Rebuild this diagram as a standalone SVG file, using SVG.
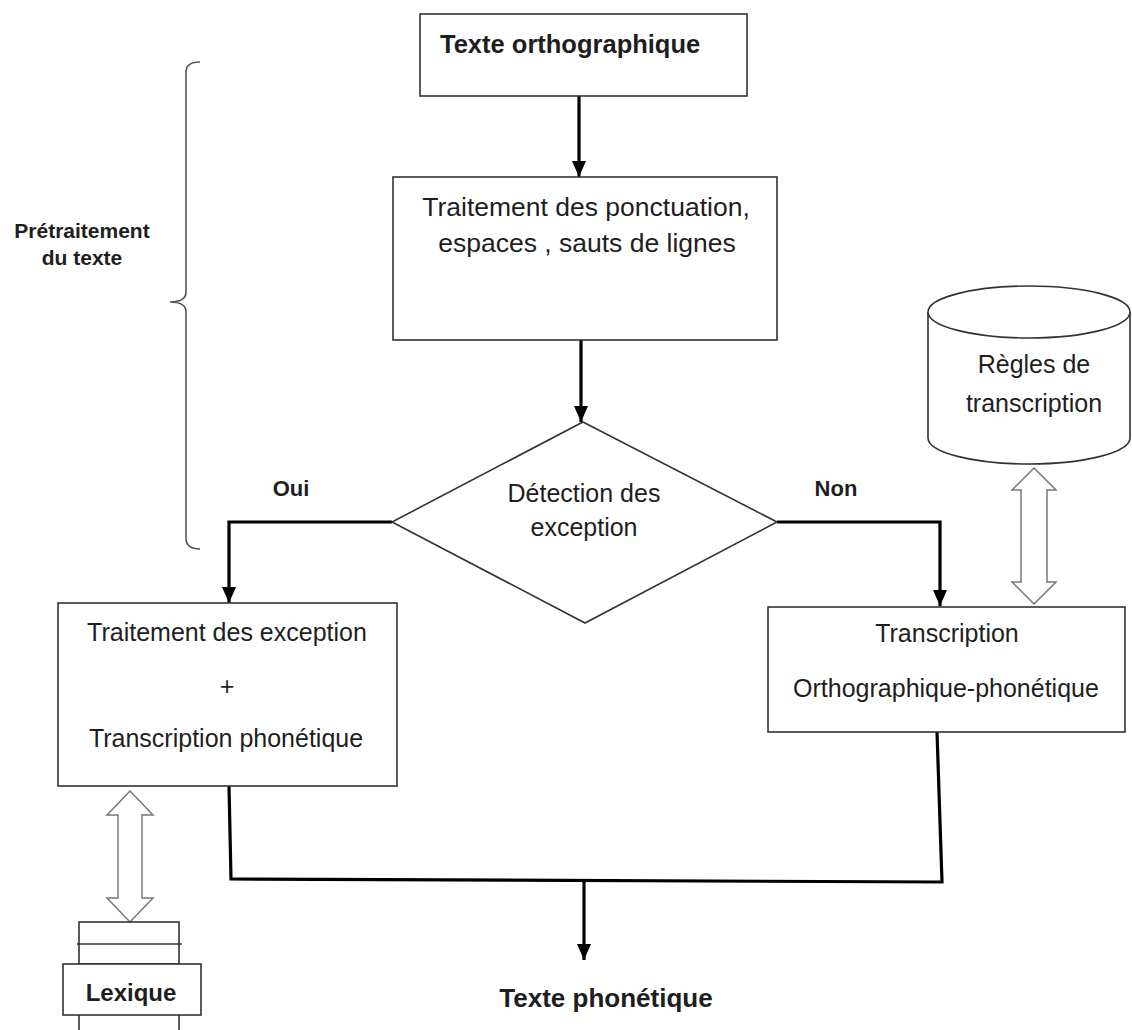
<svg xmlns="http://www.w3.org/2000/svg" width="1132" height="1030" viewBox="0 0 1132 1030">
  <defs>
    <marker id="head" markerUnits="userSpaceOnUse" markerWidth="16" markerHeight="16" viewBox="0 0 16 16" refX="16" refY="8" orient="auto">
      <path d="M0,1 L16,8 L0,15 Z" fill="#000"/>
    </marker>
    <style>
      .box { fill: #fff; stroke: #333; stroke-width: 1.6; }
      .dbl { fill: #fff; stroke: #777; stroke-width: 1.5; stroke-linejoin: miter; }
      .flow { fill: none; stroke: #000; stroke-width: 3.2; }
      .brace { fill: none; stroke: #555; stroke-width: 1.6; }
      text { font-family: "Liberation Sans", Arial, sans-serif; fill: #1e1e1e; }
      .t { font-size: 25px; text-anchor: middle; }
      .t.lg { font-size: 26.5px; }
      .b { font-weight: bold; }
    </style>
  </defs>

  <rect width="1132" height="1030" fill="#fff"/>

  <!-- curly brace and its label -->
  <g id="pretraitement">
    <path class="brace" d="M200,62 Q186,62 186,72 L186,292 Q186,302 170,302 Q186,302 186,312 L186,538 Q186,549 200,549"/>
    <text class="b" x="82" y="238" font-size="21" text-anchor="middle">Prétraitement</text>
    <text class="b" x="82" y="265" font-size="21" text-anchor="middle">du texte</text>
  </g>

  <!-- connectors -->
  <g id="connectors">
    <line class="flow" x1="579" y1="96" x2="579" y2="177" marker-end="url(#head)"/>
    <line class="flow" x1="581" y1="340" x2="581" y2="422" marker-end="url(#head)"/>
    <polyline class="flow" points="392,522 229,522 229,603" marker-end="url(#head)"/>
    <polyline class="flow" points="777,522 940,522 940,606" marker-end="url(#head)"/>
    <polyline class="flow" points="229,786 231,879 942,882 937,732"/>
    <line class="flow" x1="584" y1="880" x2="584" y2="960" marker-end="url(#head)"/>
    <!-- two-way hollow arrows -->
    <path class="dbl" d="M130,791 L153,815 L142,815 L142,898 L153,898 L130,922 L107,898 L118,898 L118,815 L107,815 Z"/>
    <path class="dbl" d="M1034,468 L1056,490 L1047,490 L1047,582 L1056,582 L1034,604 L1012,582 L1021,582 L1021,490 L1012,490 Z"/>
    <text class="b" x="291" y="496" font-size="22" text-anchor="middle">Oui</text>
    <text class="b" x="836" y="496" font-size="22" text-anchor="middle">Non</text>
  </g>

  <g id="texte-orthographique">
    <rect class="box" x="420" y="14" width="327" height="82"/>
    <text class="b" x="440" y="53" font-size="25.5">Texte orthographique</text>
  </g>

  <g id="traitement-ponctuation">
    <rect class="box" x="393" y="177" width="384" height="163"/>
    <text class="t lg" x="586" y="216">Traitement des ponctuation,</text>
    <text class="t lg" x="587" y="252">espaces , sauts de lignes</text>
  </g>

  <g id="detection">
    <polygon class="box" points="583,422 777,522 585,623 392,522"/>
    <text class="t" x="584" y="502">Détection des</text>
    <text class="t" x="584" y="536">exception</text>
  </g>

  <g id="traitement-exception">
    <rect class="box" x="58" y="603" width="339" height="183"/>
    <text class="t" x="227" y="641">Traitement des exception</text>
    <text class="t" x="227" y="695">+</text>
    <text class="t" x="226" y="747">Transcription phonétique</text>
  </g>

  <g id="transcription-ortho">
    <rect class="box" x="768" y="607" width="357" height="125"/>
    <text class="t" x="947" y="642">Transcription</text>
    <text class="t" x="946" y="697">Orthographique-phonétique</text>
  </g>

  <g id="regles">
    <path class="box" d="M928,312 L928,438 A101,26 0 0 0 1130,438 L1130,312"/>
    <ellipse class="box" cx="1029" cy="312" rx="101" ry="26"/>
    <text class="t" x="1034" y="373">Règles de</text>
    <text class="t" x="1034" y="412">transcription</text>
  </g>

  <g id="lexique">
    <rect class="box" x="79" y="922" width="100" height="42"/>
    <line x1="77" y1="944" x2="182" y2="944" stroke="#333" stroke-width="1.6"/>
    <line x1="79" y1="1015" x2="79" y2="1030" stroke="#333" stroke-width="1.6"/>
    <line x1="179" y1="1015" x2="179" y2="1030" stroke="#333" stroke-width="1.6"/>
    <rect class="box" x="63" y="964" width="138" height="51"/>
    <text class="b" x="131" y="1001" font-size="24" text-anchor="middle">Lexique</text>
  </g>

  <g id="texte-phonetique">
    <text class="b" x="606" y="1007" font-size="26" text-anchor="middle">Texte phonétique</text>
  </g>
</svg>
